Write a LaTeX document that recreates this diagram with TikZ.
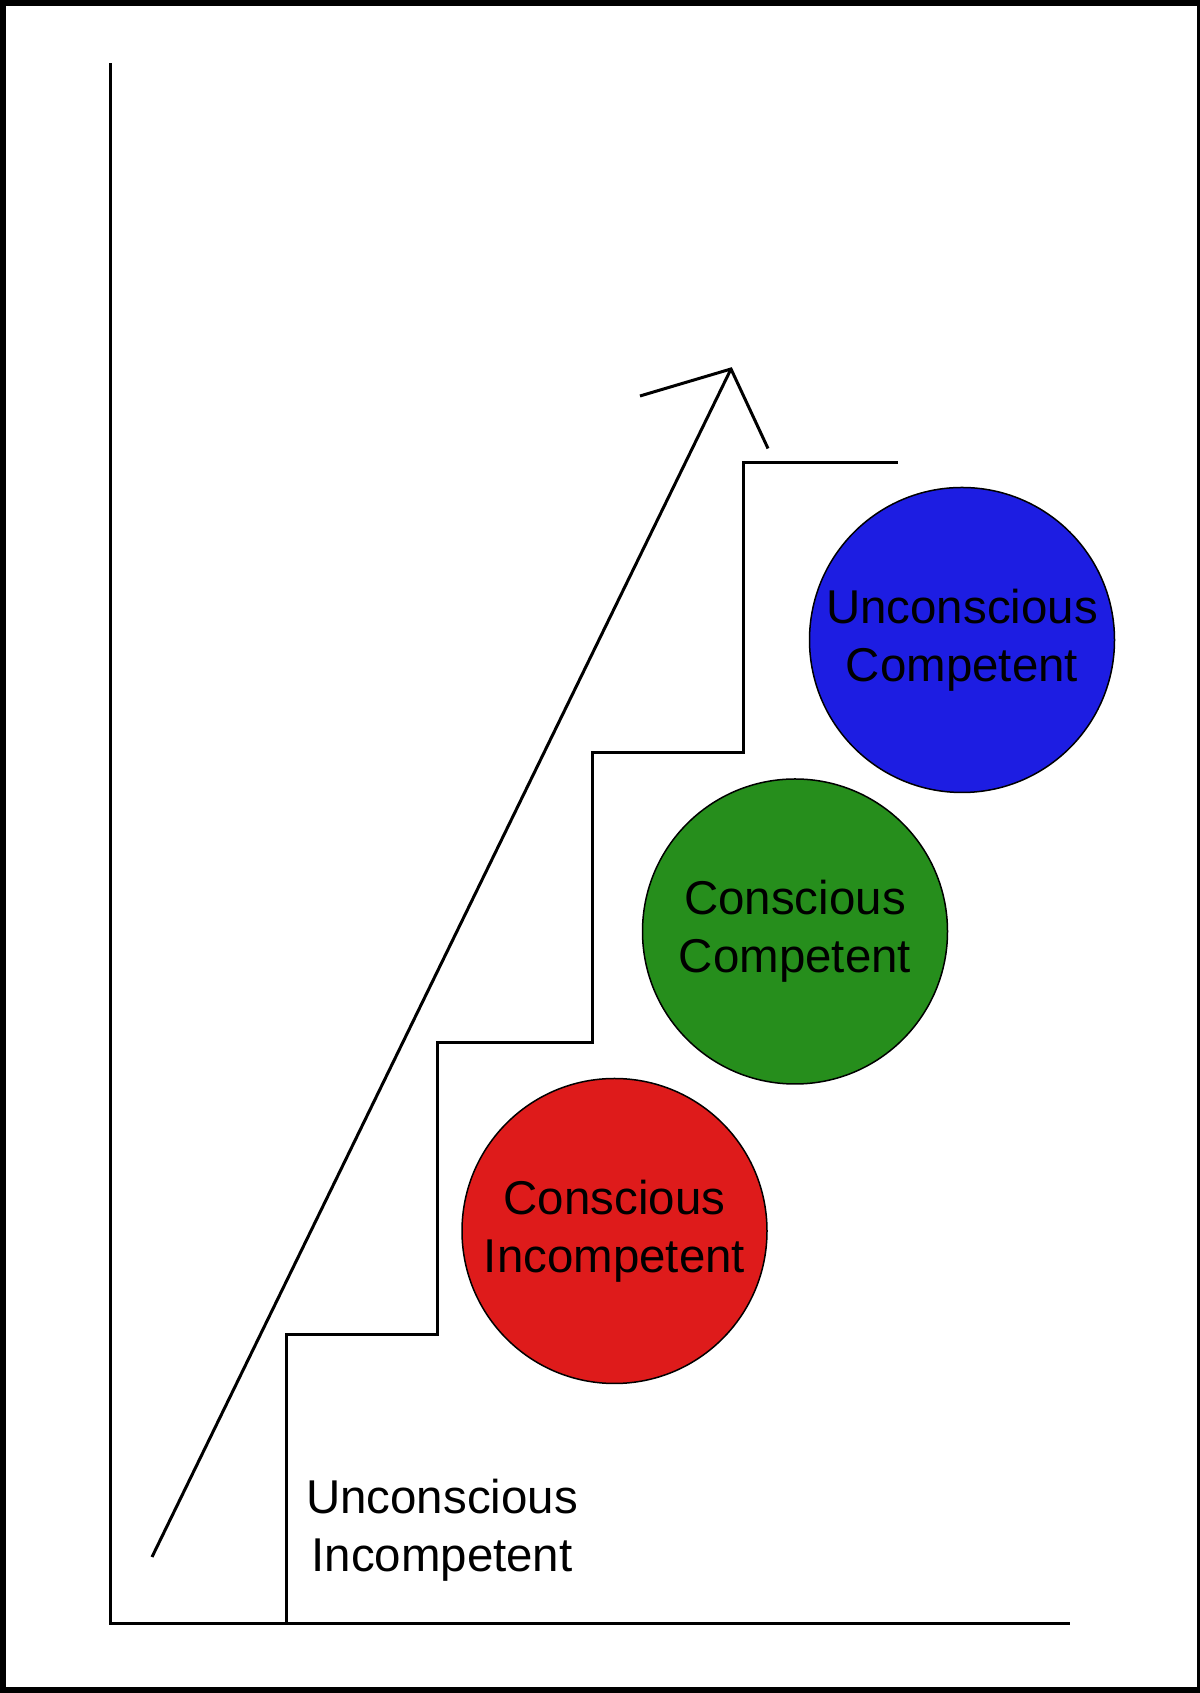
\documentclass[tikz,border=0pt]{standalone}
\usepackage{fontspec}
\setmainfont{Liberation Sans}
\usepackage{tikz}
\usetikzlibrary{calc}
\definecolor{stagered}{RGB}{222,27,27}
\definecolor{stagegreen}{RGB}{38,142,28}
\definecolor{stageblue}{RGB}{29,29,226}
\tikzset{
	stage/.style={circle, draw=black, line width=0.3mm, minimum size=6.1cm, inner sep=0pt, align=center, font=\fontsize{27}{33}\selectfont},
	stair/.style={line width=0.6mm, line cap=rect}
}

\begin{document}
\begin{tikzpicture}
			%%%%% START %%%%%
			
			\useasboundingbox (0, 0) rectangle (23.98, 33.86);
			\draw[line width=1.2mm] (0.06, 0.06) rectangle (24.0, 33.8);
			
			\draw[stair] (2.2, 32.56) -- (2.2, 1.38) -- (21.36, 1.38);
			
			\draw[stair] (5.72, 1.38) -- (5.72, 7.16) -- (8.74, 7.16) -- (8.74, 13.0) -- (11.84, 13.0) -- (11.84, 18.81) -- (14.86, 18.81) -- (14.86, 24.6) -- (17.92, 24.6);
			
			\draw[stair, line cap=butt] (3.04, 2.72) -- (14.62, 26.48);
			\draw[stair, line cap=butt, line join=miter] (12.8, 25.94) -- (14.62, 26.48) -- (15.36, 24.89);
			
			\node[stage, fill=stagered] (consinc) at (12.29, 9.24) {Conscious\\Incompetent};
			\node[stage, fill=stagegreen] (conscomp) at (15.9, 15.23) {Conscious\\Competent};
			\node[stage, fill=stageblue] (unconscomp) at (19.24, 21.06) {Unconscious\\Competent};
			
			\node[align=center, font=\fontsize{27}{33}\selectfont] (unconsinc) at (8.84, 3.26) {Unconscious\\Incompetent};
			
			%%%%% END %%%%%
		\end{tikzpicture}
\end{document}
